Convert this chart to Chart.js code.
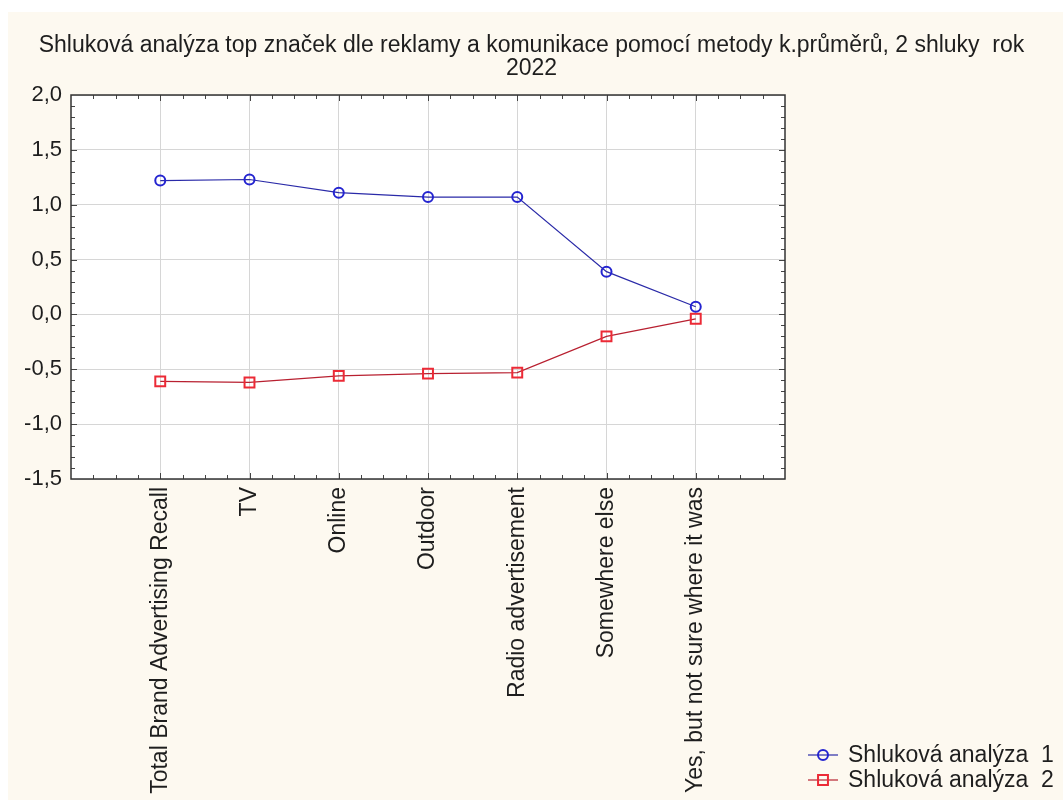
<!DOCTYPE html>
<html>
<head>
<meta charset="utf-8">
<script src="https://cdn.jsdelivr.net/npm/chart.js@4.4.0/dist/chart.umd.min.js"></script>
<style>
  html, body { margin: 0; padding: 0; background: #fff; }
  #wrap { width: 1063px; height: 800px; }
</style>
</head>
<body>
<div id="wrap"><canvas id="clusterChart" width="1063" height="800"></canvas></div>
<script>
// data
const categories = [
    'Total Brand Advertising Recall', 'TV', 'Online', 'Outdoor',
    'Radio advertisement', 'Somewhere else', 'Yes, but not sure where it was'
];
const cluster1 = [1.22, 1.23, 1.11, 1.07, 1.07, 0.39, 0.07];
const cluster2 = [-0.61, -0.62, -0.56, -0.54, -0.53, -0.20, -0.04];
const seriesNames = ['Shluková analýza  1', 'Shluková analýza  2'];
const yTicks = [-1.5, -1.0, -0.5, 0.0, 0.5, 1.0, 1.5, 2.0];
const titleLines = [
    'Shluková analýza top značek dle reklamy a komunikace pomocí metody k.průměrů, 2 shluky  rok',
    '2022'
];

const FONT = '"Liberation Sans", Arial, sans-serif';
const TEXT = '#1e1e1e';
const CREAM = '#fdf9f0';

const toPoints = vals => vals.map((v, i) => ({ x: i + 1, y: v }));

// background: white strip top/left, cream page, white plot
const backgroundPlugin = {
    id: 'background',
    beforeDraw(chart) {
        const { ctx, chartArea: a, width, height } = chart;
        ctx.save();
        ctx.fillStyle = '#ffffff';
        ctx.fillRect(0, 0, width, height);
        ctx.fillStyle = CREAM;
        ctx.fillRect(8, 12, width - 8, height - 12);
        ctx.fillStyle = '#ffffff';
        ctx.fillRect(a.left, a.top, a.right - a.left, a.bottom - a.top);
        ctx.restore();
    }
};

// small inward ticks on all four sides of the plot frame
const frameTicksPlugin = {
    id: 'frameTicks',
    afterDatasetsDraw(chart) {
        const { ctx, chartArea: a, scales } = chart;
        ctx.save();
        ctx.strokeStyle = '#444';
        ctx.lineWidth = 1;
        ctx.beginPath();
        const yMin = yTicks[0], yMax = yTicks[yTicks.length - 1];
        for (let k = 1; k < Math.round((yMax - yMin) * 10); k++) {
            const py = Math.round(scales.y.getPixelForValue(yMin + k * 0.1)) + 0.5;
            const len = k % 5 === 0 ? 6 : 4;
            ctx.moveTo(a.left, py); ctx.lineTo(a.left + len, py);
            ctx.moveTo(a.right, py); ctx.lineTo(a.right - len, py);
        }
        for (let k = 1; k < (categories.length + 1) * 4; k++) {
            const px = Math.round(scales.x.getPixelForValue(k * 0.25)) + 0.5;
            const len = k % 4 === 0 ? 6 : 4;
            ctx.moveTo(px, a.top); ctx.lineTo(px, a.top + len);
            ctx.moveTo(px, a.bottom); ctx.lineTo(px, a.bottom - len);
        }
        ctx.stroke();
        ctx.strokeStyle = '#333';
        ctx.lineWidth = 1.5;
        ctx.strokeRect(a.left, a.top, a.right - a.left, a.bottom - a.top);
        ctx.restore();
    }
};

// legend in the bottom right corner, line + marker like the original
const cornerLegendPlugin = {
    id: 'cornerLegend',
    afterDraw(chart) {
        const { ctx } = chart;
        ctx.save();
        ctx.font = '23px ' + FONT;
        ctx.textBaseline = 'middle';
        chart.data.datasets.forEach((ds, i) => {
            const y = 755 + i * 25;
            ctx.strokeStyle = ds.borderColor;
            ctx.lineWidth = 1.2;
            ctx.beginPath();
            ctx.moveTo(808, y); ctx.lineTo(838, y);
            ctx.stroke();
            ctx.strokeStyle = ds.pointBorderColor;
            ctx.lineWidth = ds.pointBorderWidth;
            ctx.beginPath();
            if (ds.pointStyle === 'circle') {
                ctx.arc(823, y, ds.pointRadius, 0, Math.PI * 2);
            } else {
                const s = ds.pointRadius * Math.SQRT1_2;
                ctx.rect(823 - s, y - s, 2 * s, 2 * s);
            }
            ctx.stroke();
            ctx.fillStyle = TEXT;
            ctx.fillText(ds.label, 848, y + 1);
        });
        ctx.restore();
    }
};

const data = {
    datasets: [{
        label: seriesNames[0],
        data: toPoints(cluster1),
        borderColor: '#2a2aa8',
        borderWidth: 1.2,
        pointStyle: 'circle',
        pointRadius: 5,
        pointBorderWidth: 2,
        pointBorderColor: '#2424d0',
        pointBackgroundColor: 'rgba(255,255,255,0)',
        tension: 0
    }, {
        label: seriesNames[1],
        data: toPoints(cluster2),
        borderColor: '#b82030',
        borderWidth: 1.2,
        pointStyle: 'rect',
        pointRadius: 7,
        pointBorderWidth: 2,
        pointBorderColor: '#ec2a36',
        pointBackgroundColor: 'rgba(255,255,255,0)',
        tension: 0
    }]
};

const config = {
    type: 'line',
    data: data,
    options: {
        responsive: false,
        devicePixelRatio: 1,
        animation: false,
        layout: { padding: 0 },
        scales: {
            x: {
                type: 'linear',
                min: 0,
                max: categories.length + 1,
                grid: { color: '#d6d6d6', lineWidth: 1, drawTicks: false },
                border: { display: false },
                afterBuildTicks: scale => {
                    scale.ticks = categories.map((c, i) => ({ value: i + 1 }));
                },
                afterFit: scale => { scale.height = 800 - 479; },
                ticks: {
                    autoSkip: false,
                    maxRotation: 90,
                    minRotation: 90,
                    padding: 8,
                    color: TEXT,
                    font: { family: FONT, size: 23 },
                    callback: v => categories[v - 1] || ''
                }
            },
            y: {
                min: yTicks[0],
                max: yTicks[yTicks.length - 1],
                grid: { color: '#d6d6d6', lineWidth: 1, drawTicks: false },
                border: { display: false },
                afterFit: scale => { scale.width = 71; },
                ticks: {
                    stepSize: 0.5,
                    padding: 9,
                    color: TEXT,
                    font: { family: FONT, size: 22 },
                    callback: v => v.toFixed(1).replace('.', ',')
                }
            },
            // empty right axis keeps room for the legend while the title spans the page
            yRight: {
                position: 'right',
                min: yTicks[0],
                max: yTicks[yTicks.length - 1],
                grid: { display: false },
                border: { display: false },
                ticks: { display: false },
                afterFit: scale => { scale.width = 1063 - 785; }
            }
        },
        plugins: {
            legend: { display: false },
            tooltip: { enabled: false },
            title: {
                display: true,
                text: titleLines,
                color: TEXT,
                font: { family: FONT, size: 23, weight: 'normal', lineHeight: 1.0 },
                padding: { top: 34, bottom: 15 }
            }
        }
    },
    plugins: [backgroundPlugin, frameTicksPlugin, cornerLegendPlugin]
};

const ctx = document.getElementById('clusterChart').getContext('2d');
const clusterChart = new Chart(ctx, config);
</script>
</body>
</html>
